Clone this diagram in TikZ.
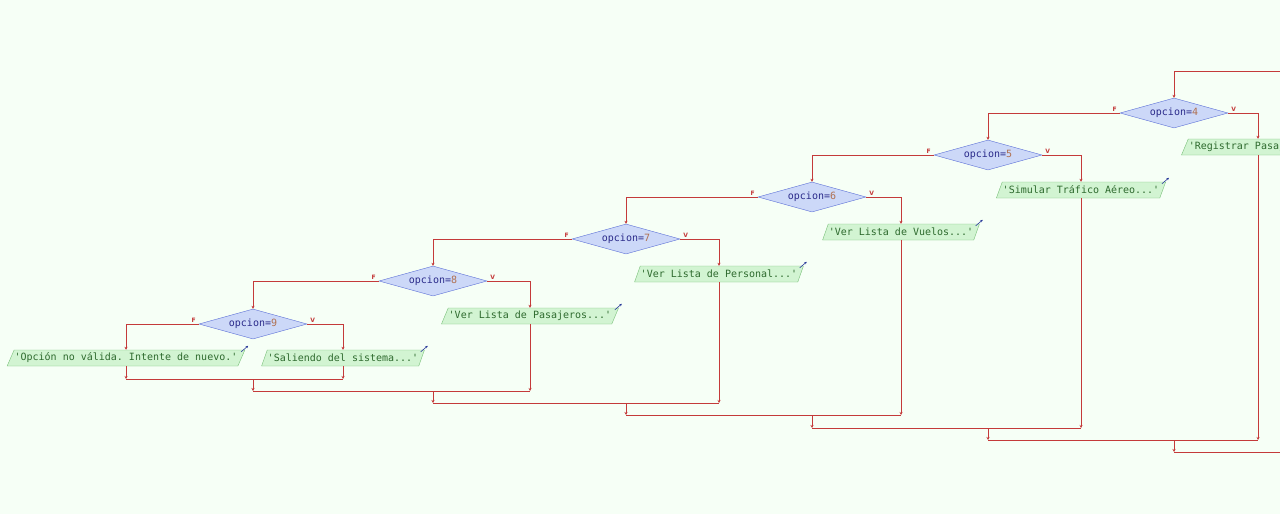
\documentclass[tikz,border=0pt]{standalone}
\usepackage{fontspec}
\setmonofont{DejaVu Sans Mono}
\setsansfont{DejaVu Sans}
\usetikzlibrary{shapes.geometric,arrows.meta}
\definecolor{bg}{HTML}{F6FFF6}
\definecolor{ln}{HTML}{C43A3A}
\definecolor{dfill}{HTML}{CCD8F8}
\definecolor{ddraw}{HTML}{5B6FD6}
\definecolor{dtext}{HTML}{2A2A8A}
\definecolor{numc}{HTML}{B07050}
\definecolor{bfill}{HTML}{D2F4D2}
\definecolor{bdraw}{HTML}{78C078}
\definecolor{btext}{HTML}{2E6A2E}
\definecolor{outarr}{HTML}{2A3A9A}
\begin{document}
\begin{tikzpicture}[x=1pt,y=-1pt,
 cond/.style={diamond,aspect=3.6,draw=ddraw,fill=dfill,minimum width=108pt,minimum height=30pt,inner sep=0pt,font=\ttfamily\fontsize{10}{12}\selectfont,text=dtext},
 outbox/.style={trapezium,trapezium left angle=60,trapezium right angle=120,trapezium stretches body,draw=bdraw,fill=bfill,minimum height=16pt,inner ysep=1pt,inner xsep=0.5pt,font=\ttfamily\fontsize{10}{12}\selectfont,text=btext},
 flow/.style={draw=ln,line width=0.8pt},
 tip/.style={flow,-{Stealth[length=3pt,width=3pt]}},
 outa/.style={draw=outarr,line width=0.6pt,-{Stealth[length=2.5pt,width=2.5pt]}},
 lbl/.style={text=ln,font=\sffamily\bfseries\fontsize{6}{7}\selectfont,inner sep=0pt}]
\useasboundingbox (0,0) rectangle (1280,514);
\clip (0,0) rectangle (1280,514);
\fill[bg] (0,0) rectangle (1280,514);

% decisions
\node[cond] (d4) at (1174,113) {opcion=\textcolor{numc}{4}};
\node[cond] (d5) at (988,155) {opcion=\textcolor{numc}{5}};
\node[cond] (d6) at (812,197) {opcion=\textcolor{numc}{6}};
\node[cond] (d7) at (626,239) {opcion=\textcolor{numc}{7}};
\node[cond] (d8) at (433,281) {opcion=\textcolor{numc}{8}};
\node[cond] (d9) at (253,324) {opcion=\textcolor{numc}{9}};

% outputs
\node[outbox] (b4) at (1258,147) {'Registrar Pasajero...'};
\node[outbox] (b5) at (1081,190) {'Simular Tráfico Aéreo...'};
\node[outbox] (b6) at (901,232) {'Ver Lista de Vuelos...'};
\node[outbox] (b7) at (719,274) {'Ver Lista de Personal...'};
\node[outbox] (b8) at (530,316) {'Ver Lista de Pasajeros...'};
\node[outbox] (b9v) at (343,358) {'Saliendo del sistema...'};
\node[outbox] (b9f) at (126,358) {'Opción no válida. Intente de nuevo.'};

\foreach \b in {b4,b5,b6,b7,b8,b9v,b9f}
  \draw[outa] ([shift={(-4,2)}]\b.top right corner) -- ++(7,-6);

% F / V labels
\foreach \d in {d4,d5,d6,d7,d8,d9}{
  \node[lbl,anchor=south east,xshift=-3pt,yshift=1pt] (\d F) at (\d.west) {F};
  \node[lbl,anchor=south west,xshift=3pt,yshift=1pt] (\d V) at (\d.east) {V};
}

% entry
\coordinate (top) at (1290,71);
\draw[tip] (top) -| (d4.north);

% branches
\draw[tip] (d4.west) -| (d5.north);
\draw[tip] (d4.east) -| (b4.north);
\draw[tip] (d5.west) -| (d6.north);
\draw[tip] (d5.east) -| (b5.north);
\draw[tip] (d6.west) -| (d7.north);
\draw[tip] (d6.east) -| (b6.north);
\draw[tip] (d7.west) -| (d8.north);
\draw[tip] (d7.east) -| (b7.north);
\draw[tip] (d8.west) -| (d9.north);
\draw[tip] (d8.east) -| (b8.north);
\draw[tip] (d9.west) -| (b9f.north);
\draw[tip] (d9.east) -| (b9v.north);

% joins
\coordinate (e9) at (253,379);
\coordinate (e8) at (433,391);
\coordinate (e7) at (626,403);
\coordinate (e6) at (812,415);
\coordinate (e5) at (988,428);
\coordinate (e4) at (1174,440);
\coordinate (e3) at (1290,452);

\draw[flow] (b9f.south |- e9) -- (b9v.south |- e9);
\draw[tip] (b9f.south) -- (b9f.south |- e9);
\draw[tip] (b9v.south) -- (b9v.south |- e9);
\draw[tip] (e9) -- (e9 |- e8);

\draw[flow] (e9 |- e8) -- (b8.south |- e8);
\draw[tip] (b8.south) -- (b8.south |- e8);
\draw[tip] (e8) -- (e8 |- e7);

\draw[flow] (e8 |- e7) -- (b7.south |- e7);
\draw[tip] (b7.south) -- (b7.south |- e7);
\draw[tip] (e7) -- (e7 |- e6);

\draw[flow] (e7 |- e6) -- (b6.south |- e6);
\draw[tip] (b6.south) -- (b6.south |- e6);
\draw[tip] (e6) -- (e6 |- e5);

\draw[flow] (e6 |- e5) -- (b5.south |- e5);
\draw[tip] (b5.south) -- (b5.south |- e5);
\draw[tip] (e5) -- (e5 |- e4);

\draw[flow] (e5 |- e4) -- (b4.south |- e4);
\draw[tip] (b4.south) -- (b4.south |- e4);
\draw[tip] (e4) -- (e4 |- e3);
\draw[flow] (e4 |- e3) -- (e3);
\end{tikzpicture}
\end{document}
